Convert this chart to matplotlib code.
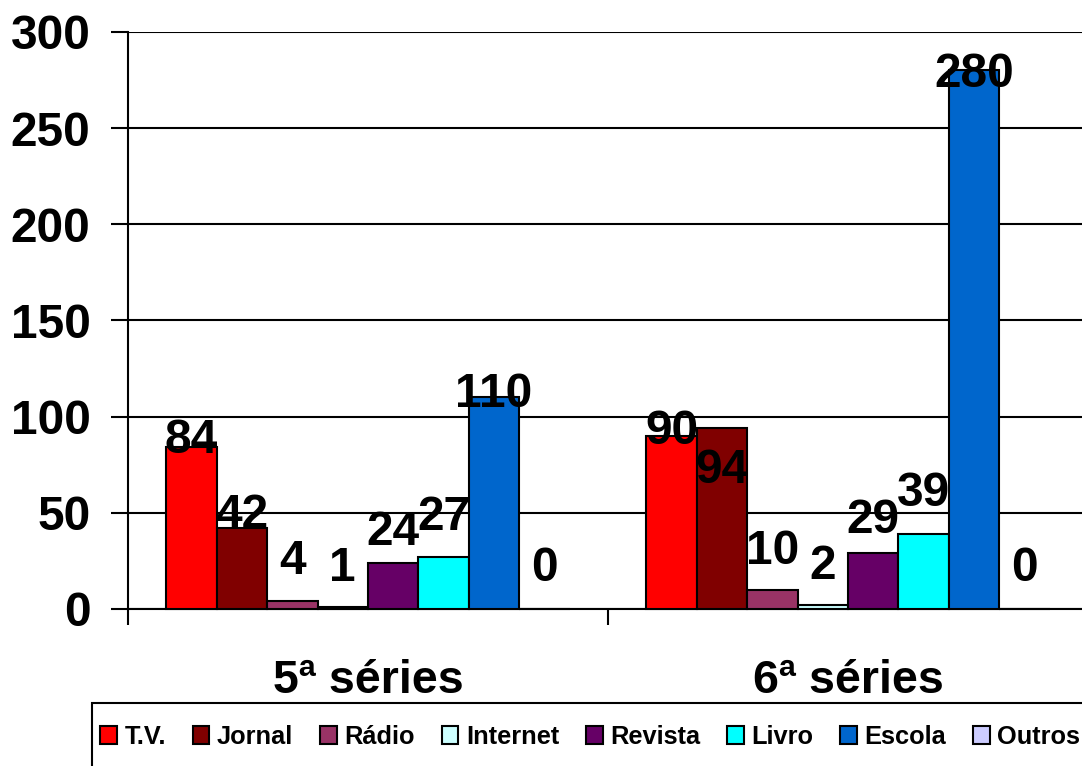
import matplotlib
matplotlib.use('Agg')
import matplotlib.pyplot as plt
import numpy as np
from matplotlib.patches import Patch, Rectangle

plt.rcParams['font.family'] = ['Liberation Sans', 'DejaVu Sans']
plt.rcParams['font.weight'] = 'bold'

# ---- data ----
categories = ['5ª séries', '6ª séries']
series_names = ['T.V.', 'Jornal', 'Rádio', 'Internet', 'Revista', 'Livro', 'Escola', 'Outros']
tv = [84, 90]
jornal = [42, 94]
radio = [4, 10]
internet = [1, 2]
revista = [24, 29]
livro = [27, 39]
escola = [110, 280]
outros = [0, 0]
y_ticks = [0, 50, 100, 150, 200, 250, 300]

series_values = [tv, jornal, radio, internet, revista, livro, escola, outros]
colors = ['#FF0000', '#800000', '#993366', '#CCFFFF', '#660066', '#00FFFF', '#0066CC', '#CCCCFF']

# label baseline offsets above bar top (pixels), per category then per series
label_offsets_px = [
    [-6, 0, 27, 26, 18, 27, -10, 28],
    [-8, -55, 26, 26, 20, 28, -17, 28],
]

W, H = 1082, 766
fig = plt.figure(figsize=(W / 100, H / 100), dpi=100)
ax = fig.add_axes([128 / W, 1 - 609 / H, 960 / W, (609 - 32) / H])
ax.set_xlim(0, 2)
ax.set_ylim(0, 300)

bar_w = 0.105
xc = np.arange(len(categories)) + 0.5
for i, (name, vals, col) in enumerate(zip(series_names, series_values, colors)):
    xs = xc + (i - 3.5) * bar_w
    bars = ax.bar(xs, vals, bar_w, color=col, edgecolor='black', linewidth=1.5,
                  zorder=3, clip_on=False)
    for j, (b, v) in enumerate(zip(bars, vals)):
        off = label_offsets_px[j][i] * 0.72
        ax.annotate(str(v), (b.get_x() + b.get_width() / 2, v), xytext=(0, off),
                    textcoords='offset points', ha='center', va='baseline',
                    fontsize=34.5, fontweight='bold', zorder=5, annotation_clip=False)

ax.set_axisbelow(True)
ax.yaxis.grid(True, color='black', linewidth=1.5)
for s in ['top', 'right']:
    ax.spines[s].set_visible(False)
for s in ['left', 'bottom']:
    ax.spines[s].set_linewidth(1.5)
    ax.spines[s].set_color('black')

ax.set_yticks(y_ticks)
ax.set_yticklabels([str(t) for t in y_ticks])
ax.tick_params(axis='y', length=12, width=1.5, pad=15, labelsize=34.5)

ax.set_xticks(xc)
ax.set_xticklabels(categories, fontsize=33.5, fontweight='bold')
ax.tick_params(axis='x', which='major', length=0, pad=36)
ax.set_xticks([0, 1, 2], minor=True)
ax.tick_params(axis='x', which='minor', length=11.5, width=1.5, direction='out')

# legend frame (extends beyond the figure's right and bottom edges)
fig.patches.append(Rectangle((92 / W, -0.05), 1.0, 0.05 + (1 - 703 / H),
                             transform=fig.transFigure, facecolor='white',
                             edgecolor='black', linewidth=1.5, zorder=0))

handles = [Patch(facecolor=c, edgecolor='black', linewidth=1.5) for c in colors]
leg = fig.legend(handles, series_names, loc='upper left',
                 bbox_to_anchor=(100 / W, 1 - 725 / H), ncol=8,
                 prop={'weight': 'bold', 'size': 18.3},
                 frameon=False,
                 handlelength=0.66, handleheight=0.7, handletextpad=0.3,
                 columnspacing=1.05, borderpad=0, borderaxespad=0)

fig.savefig('out.png', dpi=100)
